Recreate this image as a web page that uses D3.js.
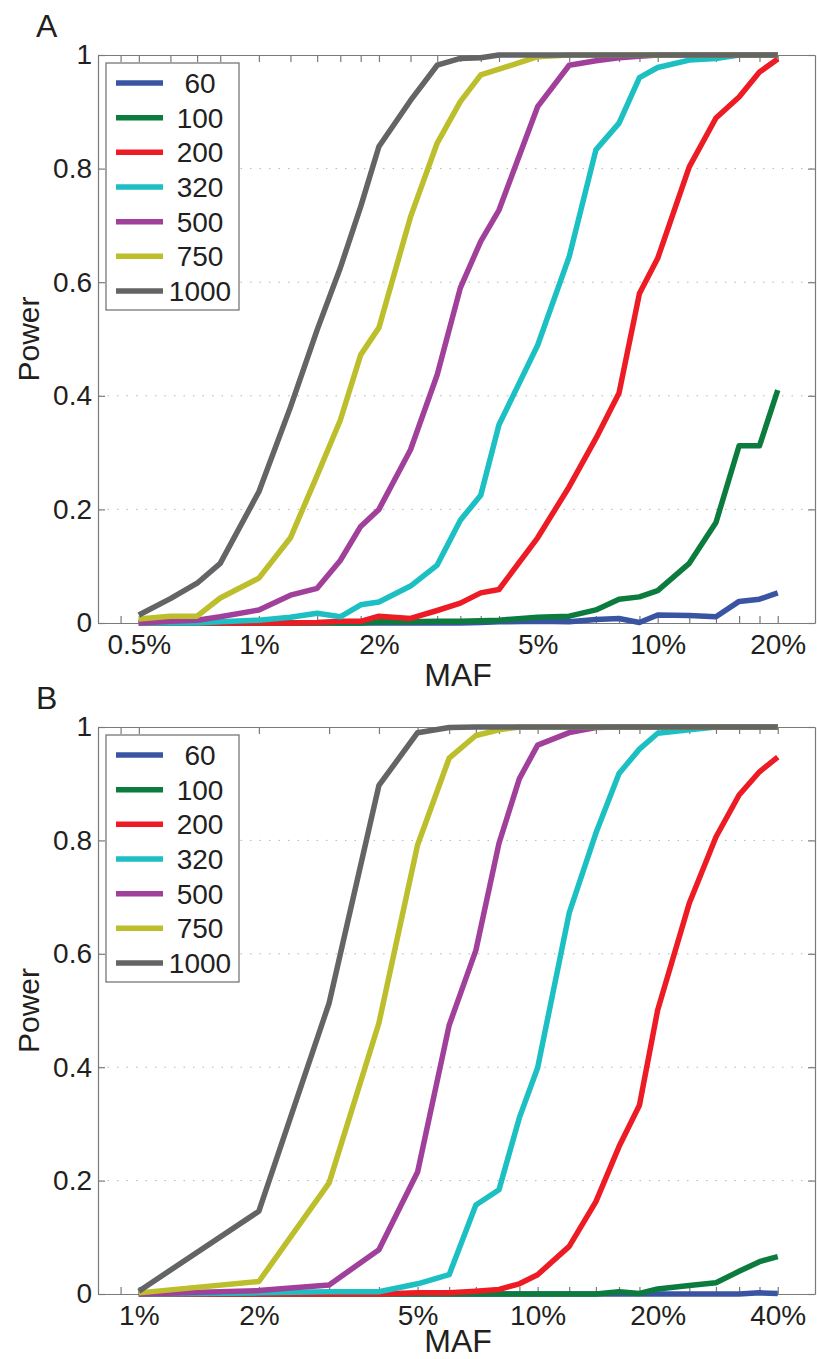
<!DOCTYPE html>
<html>
<head>
<meta charset="utf-8">
<script src="https://cdn.jsdelivr.net/npm/d3@7"></script>
<style>
  body { margin: 0; background: #fff; }
  svg { display: block; font-family: Arial, "Liberation Sans", Helvetica, sans-serif; }
</style>
</head>
<body>
<div id="chart"></div>
<script>
// Legend entries and line colours
const sampleSizes = ["60", "100", "200", "320", "500", "750", "1000"];
const lineColors = ["#3a54a4", "#0b7c3d", "#ed1c24", "#1cbfc2", "#a0409a", "#bcbe2c", "#636466"];

// Panel A: MAF (%) and power per sample size
const mafA = [0.5, 0.6, 0.7, 0.8, 1.0, 1.2, 1.4, 1.6, 1.8, 2.0, 2.4, 2.8, 3.2, 3.6, 4.0, 5, 6, 7, 8, 9, 10, 12, 14, 16, 18, 20];
const powerA60   = [0, 0, 0, 0, 0, 0, 0, 0, 0, 0, 0, 0, 0, 0.001, 0.002, 0.003, 0.002, 0.006, 0.008, 0.001, 0.014, 0.013, 0.011, 0.038, 0.042, 0.053];
const powerA100  = [0, 0, 0, 0, 0, 0, 0, 0, 0, 0.002, 0.002, 0.003, 0.003, 0.004, 0.005, 0.010, 0.012, 0.023, 0.042, 0.046, 0.057, 0.105, 0.177, 0.312, 0.312, 0.41];
const powerA200  = [0, 0, 0, 0, 0, 0, 0.001, 0.003, 0.003, 0.012, 0.008, 0.022, 0.035, 0.053, 0.059, 0.150, 0.240, 0.325, 0.405, 0.580, 0.642, 0.803, 0.889, 0.926, 0.970, 0.993];
const powerA320  = [0, 0, 0, 0.002, 0.005, 0.010, 0.017, 0.011, 0.032, 0.037, 0.065, 0.102, 0.181, 0.225, 0.349, 0.489, 0.645, 0.833, 0.880, 0.960, 0.978, 0.991, 0.994, 1, 1, 1];
const powerA500  = [0, 0.003, 0.005, 0.011, 0.023, 0.049, 0.061, 0.110, 0.170, 0.200, 0.305, 0.437, 0.590, 0.672, 0.727, 0.909, 0.982, 0.990, 0.995, 0.998, 1, 1, 1, 1, 1, 1];
const powerA750  = [0.007, 0.012, 0.012, 0.044, 0.079, 0.150, 0.260, 0.357, 0.472, 0.520, 0.715, 0.845, 0.918, 0.965, 0.975, 0.997, 1, 1, 1, 1, 1, 1, 1, 1, 1, 1];
const powerA1000 = [0.014, 0.043, 0.070, 0.105, 0.231, 0.380, 0.516, 0.625, 0.733, 0.839, 0.920, 0.982, 0.994, 0.995, 1, 1, 1, 1, 1, 1, 1, 1, 1, 1, 1, 1];
const xTicksA = [0.45, 0.5, 0.6, 0.7, 0.8, 1.0, 1.2, 1.4, 1.6, 1.8, 2.0, 2.4, 2.8, 3.2, 3.6, 4.0, 5, 6, 7, 8, 9, 10, 12, 14, 16, 18, 20];
const xLabelsA = [0.5, 1, 2, 5, 10, 20];

// Panel B
const mafB = [1, 2, 3, 4, 5, 6, 7, 8, 9, 10, 12, 14, 16, 18, 20, 24, 28, 32, 36, 40];
const powerB60   = [0, 0, 0, 0, 0, 0, 0, 0, 0, 0, 0, 0, 0, 0, 0, 0, 0, 0, 0.002, 0.001];
const powerB100  = [0, 0, 0, 0, 0, 0, 0, 0, 0, 0, 0, 0, 0.004, 0.001, 0.009, 0.015, 0.020, 0.040, 0.057, 0.066];
const powerB200  = [0, 0, 0, 0, 0.002, 0.002, 0.005, 0.008, 0.018, 0.034, 0.084, 0.163, 0.260, 0.333, 0.501, 0.689, 0.806, 0.880, 0.921, 0.947];
const powerB320  = [0, 0.002, 0.004, 0.004, 0.018, 0.034, 0.157, 0.184, 0.311, 0.399, 0.672, 0.813, 0.918, 0.961, 0.989, 0.995, 1, 1, 1, 1];
const powerB500  = [0, 0.006, 0.016, 0.078, 0.215, 0.474, 0.606, 0.795, 0.909, 0.968, 0.990, 0.999, 1, 1, 1, 1, 1, 1, 1, 1];
const powerB750  = [0.002, 0.022, 0.196, 0.478, 0.792, 0.945, 0.985, 0.995, 1, 1, 1, 1, 1, 1, 1, 1, 1, 1, 1, 1];
const powerB1000 = [0.005, 0.146, 0.513, 0.897, 0.990, 0.999, 1, 1, 1, 1, 1, 1, 1, 1, 1, 1, 1, 1, 1, 1];
const xTicksB = [0.9, 1, 2, 3, 4, 5, 6, 7, 8, 9, 10, 12, 14, 16, 18, 20, 24, 28, 32, 36, 40];
const xLabelsB = [1, 2, 5, 10, 20, 40];

const yTicks = [0, 0.2, 0.4, 0.6, 0.8, 1];
const yGrid = [0.2, 0.4, 0.6, 0.8];

// Dimensions
const width = 817, height = 1359;
const plotLeft = 98, plotRight = 815;

const svg = d3.select("#chart")
    .append("svg")
    .attr("width", width)
    .attr("height", height);

function drawPanel(opt) {
    const g = svg.append("g");

    // Scales
    const x = d3.scaleLog().domain(opt.xDomain).range([plotLeft, plotRight]);
    const y = d3.scaleLinear().domain([0, 1]).range([opt.bottom, opt.top]);

    // Dotted grid
    g.selectAll(".grid")
        .data(yGrid)
        .enter().append("line")
        .attr("x1", plotLeft).attr("x2", plotRight)
        .attr("y1", d => y(d)).attr("y2", d => y(d))
        .attr("stroke", "#b5b5b5")
        .attr("stroke-width", 1)
        .attr("stroke-dasharray", "1.5,8");

    // Axes (ticks pointing inward, like the box of the original)
    const axisColor = "#7a7a7a";
    const styleAxis = sel => {
        sel.selectAll("path, line").attr("stroke", axisColor).attr("stroke-width", 1.2);
        sel.selectAll("text").attr("fill", "#231f20").style("font-size", "28px");
    };

    g.append("g")
        .attr("transform", `translate(0,${opt.bottom})`)
        .call(d3.axisBottom(x).tickValues(opt.xTicks).tickSize(-7).tickSizeOuter(0).tickPadding(11)
            .tickFormat(d => opt.xLabels.includes(d) ? d + "%" : ""))
        .call(styleAxis);

    g.append("g")
        .attr("transform", `translate(0,${opt.top})`)
        .call(d3.axisTop(x).tickValues(opt.xTicks).tickSize(-7).tickSizeOuter(0).tickFormat(""))
        .call(styleAxis);

    g.append("g")
        .attr("transform", `translate(${plotLeft},0)`)
        .call(d3.axisLeft(y).tickValues(yTicks).tickSize(-7).tickSizeOuter(0).tickPadding(6)
            .tickFormat(d => d3.format("")(d)))
        .call(styleAxis);

    g.append("g")
        .attr("transform", `translate(${plotRight},0)`)
        .call(d3.axisRight(y).tickValues(yTicks).tickSize(-7).tickSizeOuter(0).tickFormat(""))
        .call(styleAxis);

    // Lines
    const line = d3.line()
        .x(d => x(d.maf))
        .y(d => y(d.power));

    opt.series.forEach((vals, i) => {
        const data = opt.maf.map((m, j) => ({maf: m, power: vals[j]}));
        g.append("path")
            .datum(data)
            .attr("fill", "none")
            .attr("stroke", lineColors[i])
            .attr("stroke-width", 5.5)
            .attr("stroke-linejoin", "round")
            .attr("d", line);
    });

    // Legend
    const legTop = opt.top + 8;
    const legend = g.append("g");
    legend.append("rect")
        .attr("x", 106).attr("y", legTop)
        .attr("width", 133).attr("height", 247)
        .attr("fill", "#fff")
        .attr("stroke", "#6b6b6b")
        .attr("stroke-width", 1.2);

    sampleSizes.forEach((s, i) => {
        const ly = legTop + 20 + i * 34.67;
        legend.append("line")
            .attr("x1", 116).attr("x2", 163)
            .attr("y1", ly).attr("y2", ly)
            .attr("stroke", lineColors[i])
            .attr("stroke-width", 5.5);
        legend.append("text")
            .attr("x", 200)
            .attr("y", ly + 10)
            .attr("text-anchor", "middle")
            .attr("fill", "#231f20")
            .style("font-size", "28px")
            .text(s);
    });

    // Labels
    g.append("text")
        .attr("x", 36)
        .attr("y", opt.top - 18)
        .attr("fill", "#231f20")
        .style("font-size", "32px")
        .text(opt.letter);

    g.append("text")
        .attr("transform", "rotate(-90)")
        .attr("x", -(opt.top + opt.bottom) / 2)
        .attr("y", 39)
        .attr("text-anchor", "middle")
        .attr("fill", "#231f20")
        .style("font-size", "30px")
        .text("Power");

    g.append("text")
        .attr("x", 458)
        .attr("y", opt.maf_y)
        .attr("text-anchor", "middle")
        .attr("fill", "#231f20")
        .style("font-size", "32px")
        .text("MAF");
}

drawPanel({
    letter: "A",
    top: 55, bottom: 623, maf_y: 686,
    xDomain: [0.395, 24.8],
    xTicks: xTicksA, xLabels: xLabelsA,
    maf: mafA,
    series: [powerA60, powerA100, powerA200, powerA320, powerA500, powerA750, powerA1000]
});

drawPanel({
    letter: "B",
    top: 727, bottom: 1294, maf_y: 1352,
    xDomain: [0.79, 49.6],
    xTicks: xTicksB, xLabels: xLabelsB,
    maf: mafB,
    series: [powerB60, powerB100, powerB200, powerB320, powerB500, powerB750, powerB1000]
});
</script>
</body>
</html>
